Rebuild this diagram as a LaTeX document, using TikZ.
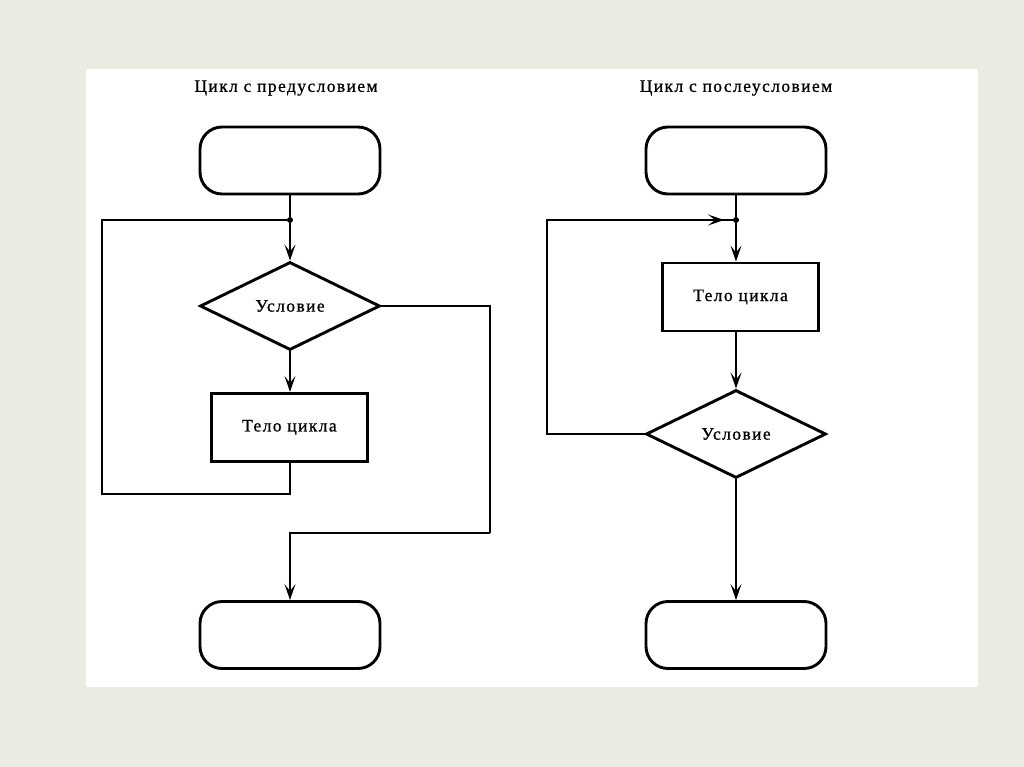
\documentclass[tikz,border=0pt]{standalone}
\usepackage{fontspec}
\setmainfont{Liberation Serif}[LetterSpace=8,FakeBold=0.8]
\usetikzlibrary{shapes.geometric,arrows.meta}
\definecolor{bgcol}{RGB}{235,235,225}
\tikzset{
  term/.style={draw, line width=2.9pt, rounded corners=22pt, minimum width=180pt, minimum height=67pt, inner sep=0pt},
  proc/.style={draw, line width=2.9pt, minimum width=156pt, minimum height=68pt, inner sep=0pt, font=\fontsize{17.5}{20}\selectfont},
  cond/.style={draw, diamond, line width=2.9pt, minimum width=180pt, minimum height=88pt, inner sep=0pt, font=\fontsize{17.5}{20}\selectfont},
  ttl/.style={font=\fontsize{17.5}{20}\selectfont, inner sep=0pt},
  conn/.style={line width=1.3pt},
  arr/.style={conn, -{Stealth[length=16pt,width=11pt,inset=7pt]}},
  jdot/.style={circle, fill, inner sep=0pt, minimum size=6pt}
}
\begin{document}
\begin{tikzpicture}[x=1pt,y=-1pt]
\fill[bgcol] (0,0) rectangle (1024,767);
\useasboundingbox (0,0) rectangle (1024,767);
\fill[white] (86,69) rectangle (978,687);
% titles
\node[ttl] (t1) at (286,88) {Цикл с предусловием};
\node[ttl] (t2) at (736,88) {Цикл с послеусловием};
% left diagram
\node[term] (s1) at (290,160.5) {};
\node[jdot] (j1) at (290,220) {};
\node[cond] (c1) at (290,306) {Условие};
\node[proc] (b1) at (289.4,427.4) {Тело цикла};
\node[term] (e1) at (290,635) {};
\coordinate (l1) at (102,494);
\coordinate (r1) at (490,533);
\draw[conn] (s1.south) -- (j1);
\draw[arr] (j1) -- (c1.north);
\draw[arr] (c1.south) -- (c1.south |- b1.north);
\draw[conn] (c1.south |- b1.south) |- (l1) |- (j1);
\draw[conn] (c1.east) -| (r1);
\draw[arr] (r1) -| (e1.north);
% right diagram
\node[term] (s2) at (736,160.5) {};
\node[jdot] (j2) at (736,220) {};
\node[proc] (b2) at (740.5,297) {Тело цикла};
\node[cond] (c2) at (736,434) {Условие};
\node[term] (e2) at (736,635) {};
\coordinate (l2) at (547,220);
\draw[conn] (s2.south) -- (j2);
\draw[arr] (j2) -- (j2 |- b2.north);
\draw[arr] (j2 |- b2.south) -- (c2.north);
\draw[conn] (c2.west) -| (l2) -- (j2);
\draw[arr] (l2) -- ([xshift=-12pt]j2.center);
\draw[arr] (c2.south) -- (e2.north);
\end{tikzpicture}
\end{document}
